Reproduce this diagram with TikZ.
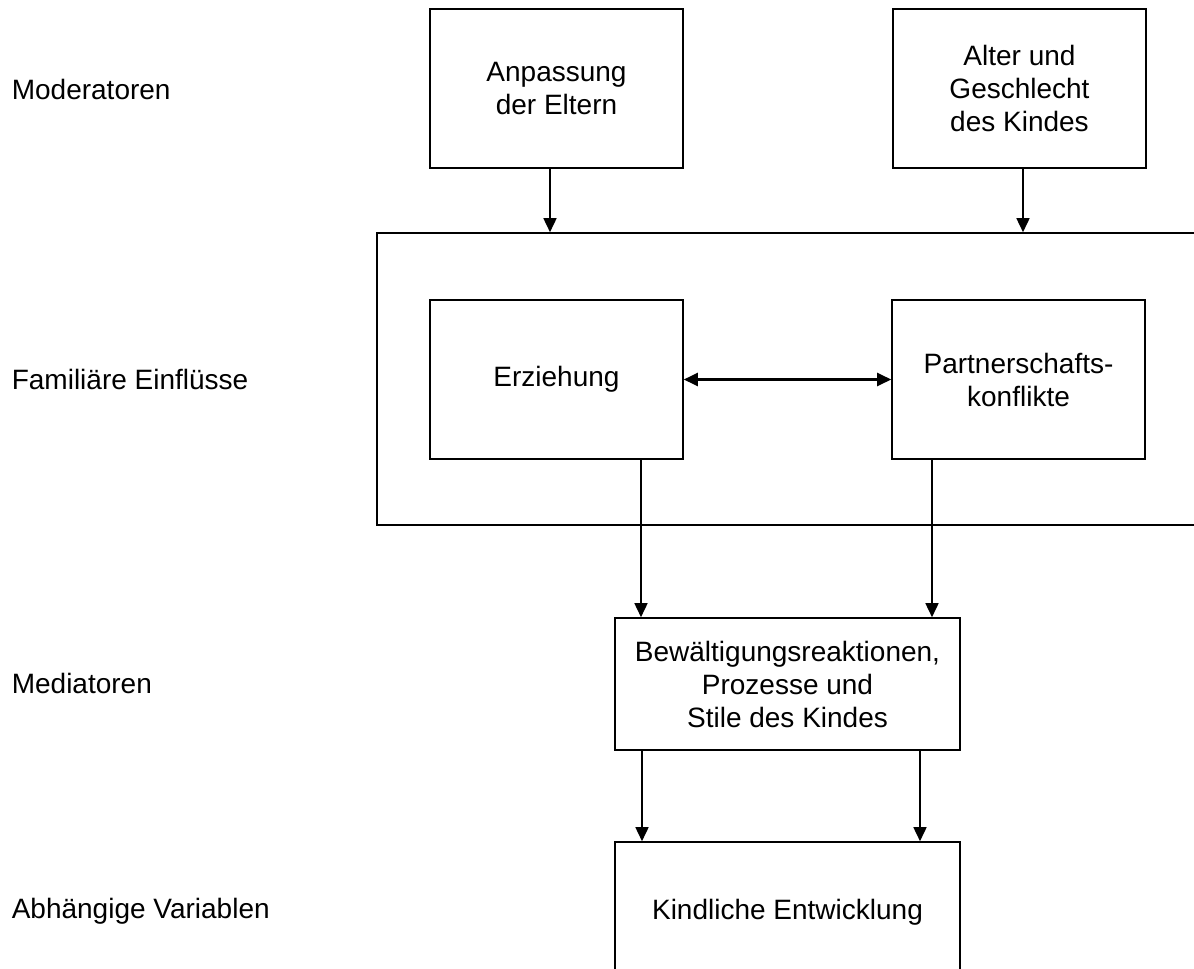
\documentclass[tikz,border=0pt]{standalone}
\usepackage{fontspec}
\setmainfont{Liberation Sans}
\usepackage{tikz}
\usetikzlibrary{arrows.meta}
\usetikzlibrary{positioning}
\tikzset{my_diagram/.style={x=0.5pt,y=-0.5pt,line width=0.8pt,font=\fontsize{14}{16.5}\selectfont}}
\tikzset{my_box/.style={draw, rectangle, align=center, inner sep=0pt, minimum width=126.5pt, minimum height=79.5pt}}
\tikzset{my_wide_box/.style={my_box, minimum width=172.5pt}}
\tikzset{my_label/.style={anchor=base west, inner sep=0pt}}
\tikzset{my_arrow/.style={-{Triangle[length=7pt,width=6.5pt]}}}
\tikzset{my_double_arrow/.style={{Triangle[length=7pt,width=6.5pt]}-{Triangle[length=7pt,width=6.5pt]}, line width=1.1pt}}

\begin{document}
\begin{tikzpicture}[my_diagram]
    \useasboundingbox (0,0) rectangle (1194,969);
    %\draw[help lines] (0,0) grid (1194,969);

    % levels
    \node[my_label] (mod) at (11,99) {Moderatoren};
    \node[my_label] (fml) at (11,389) {Familiäre Einflüsse};
    \node[my_label] (mdt) at (11,693) {Mediatoren};
    \node[my_label] (abh) at (11,918) {Abhängige Variablen};

    % boxes
    \node[my_box] (anp) at (556.5,88.5) {Anpassung\\der Eltern};
    \node[my_box] (alt) at (1019.5,88.5) {Alter und\\Geschlecht\\des Kindes};
    \node[my_box, minimum width=416.5pt, minimum height=146pt] (fam) at (793.5,379) {};
    \node[my_box] (erz) at (556.5,379.5) {Erziehung};
    \node[my_box] (par) at (1018.5,379.5) {Partnerschafts-\\konflikte};
    \node[my_wide_box, minimum height=66pt] (med) at (787.5,684) {Bewältigungsreaktionen,\\Prozesse und\\Stile des Kindes};
    \node[my_wide_box, minimum height=70pt] (kin) at (787.5,912) {Kindliche Entwicklung};

    \draw[my_arrow] ([xshift=-3.25pt]anp.south) -- ([xshift=-3.25pt]anp.south |- fam.north);
    \draw[my_arrow] ([xshift=1.75pt]alt.south) -- ([xshift=1.75pt]alt.south |- fam.north);
    \draw[my_double_arrow] (erz.east) -- (par.west);
    \draw[my_arrow] ([xshift=42.25pt]erz.south) -- ([xshift=42.25pt]erz.south |- med.north);
    \draw[my_arrow] ([xshift=-43.25pt]par.south) -- ([xshift=-43.25pt]par.south |- med.north);
    \draw[my_arrow] ([xshift=-72.75pt]med.south) -- ([xshift=-72.75pt]med.south |- kin.north);
    \draw[my_arrow] ([xshift=66.25pt]med.south) -- ([xshift=66.25pt]med.south |- kin.north);
\end{tikzpicture}
\end{document}
